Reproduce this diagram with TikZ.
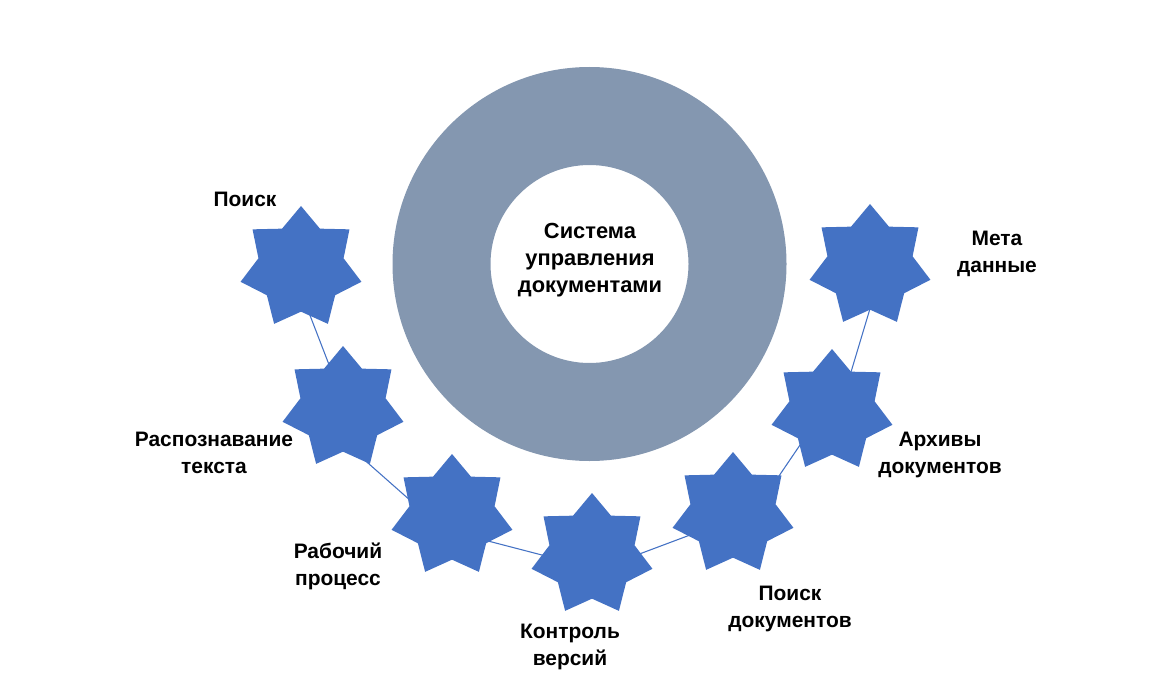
\documentclass[tikz,border=0pt]{standalone}
\usepackage{fontspec}
\setmainfont{Liberation Sans}
\usetikzlibrary{shapes.geometric,backgrounds,calc}
\definecolor{starblue}{HTML}{4472C4}
\definecolor{ringgray}{HTML}{8497B0}
\tikzset{
  bigstar/.style={star, star points=7, star point ratio=1.42, minimum size=93pt, inner sep=0pt, fill=starblue, draw=none},
  link/.style={draw=starblue, line width=0.8pt},
  lbl/.style={align=center, font=\fontsize{15.7pt}{20.2pt}\selectfont\bfseries, inner sep=0pt}
}
\begin{document}
\begin{tikzpicture}[x=0.75pt, y=-0.75pt]
\useasboundingbox (0,0) rectangle (1151,695);
% ring
\coordinate (c) at (589.5,264);
\fill[ringgray, even odd rule] (c) circle[radius=147.75pt] circle[radius=74.25pt];
\node[lbl, font=\fontsize{16.4pt}{20.2pt}\selectfont\bfseries] (center) at (590,260) {Система\\управления\\документами};
% stars
\node[bigstar] (s1) at (301,268) {};
\node[bigstar] (s2) at (343,408) {};
\node[bigstar] (s3) at (452,516) {};
\node[bigstar] (s4) at (592,555) {};
\node[bigstar] (s5) at (733,514) {};
\node[bigstar] (s6) at (832,411) {};
\node[bigstar] (s7) at (870,266) {};
% labels
\node[lbl] (l1) at (245,199) {Поиск};
\node[lbl] (l2) at (214,453) {Распознавание\\текста};
\node[lbl] (l3) at (338,566) {Рабочий\\процесс};
\node[lbl] (l4) at (570,647) {Контроль\\версий};
\node[lbl] (l5) at (790,609) {Поиск\\документов};
\node[lbl] (l6) at (940,455) {Архивы\\документов};
\node[lbl] (l7) at (997,254) {Мета\\данные};
% connectors
\begin{pgfonlayer}{background}
\draw[link] ($(s1)+(5,37)$) -- ($(s2)+(-10,-33)$);
\draw[link] ($(s2)+(17,48)$) -- ($(s3)+(-32,-7)$);
\draw[link] ($(s3)+(26,22.4)$) -- ($(s4)+(-32,4.7)$);
\draw[link] ($(s4)+(33,4.4)$) -- ($(s5)+(-28,15.4)$);
\draw[link] ($(s5)+(44.2,-35.4)$) -- ($(s6)+(-22.5,20)$);
\draw[link] ($(s6)+(16,-29)$) -- ($(s7)+(2,36)$);
\end{pgfonlayer}
\end{tikzpicture}
\end{document}
